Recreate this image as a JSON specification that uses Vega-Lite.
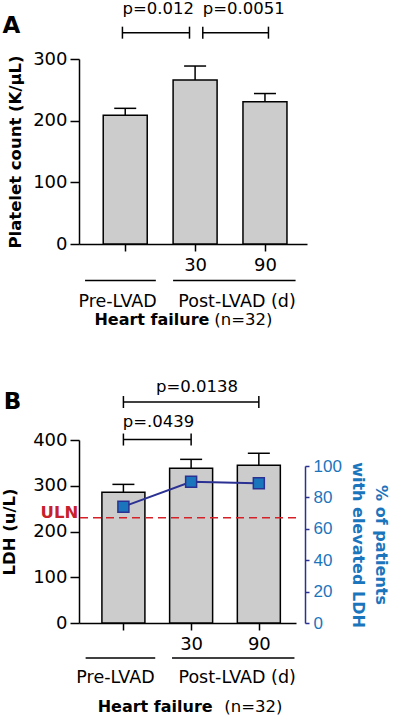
{
  "$schema": "https://vega.github.io/schema/vega-lite/v6.json",
  "background": "white",
  "padding": {"left": 1, "top": 0, "right": 0, "bottom": 0},
  "spacing": 50,
  "resolve": {"scale": {"x": "independent", "y": "independent"}, "axis": {"x": "independent", "y": "independent"}},
  "config": {
    "view": {"stroke": null},
    "font": "DejaVu Sans",
    "axis": {"grid": false, "domainColor": "black", "tickColor": "black", "domainWidth": 1.5, "tickWidth": 1.5, "labelColor": "black", "labelFont": "DejaVu Sans", "labelFontSize": 18, "titleFont": "DejaVu Sans", "titleFontWeight": "bold", "titleFontSize": 16.5, "titleColor": "black", "labelOverlap": false}
  },
  "datasets": {
    "platelet": [
      {"time": "Pre-LVAD", "idx": 1, "mean": 208.6, "upper": 220},
      {"time": "Post-LVAD 30 d", "idx": 2, "mean": 266, "upper": 288.6},
      {"time": "Post-LVAD 90 d", "idx": 3, "mean": 230.6, "upper": 244}
    ],
    "ldh": [
      {"time": "Pre-LVAD", "idx": 1, "mean": 286, "upper": 303, "pct": 74.1},
      {"time": "Post-LVAD 30 d", "idx": 2, "mean": 338, "upper": 357.7, "pct": 90.0},
      {"time": "Post-LVAD 90 d", "idx": 3, "mean": 344.6, "upper": 371, "pct": 89.0}
    ],
    "bracketsA": [
      {"x1": 0.96, "x2": 1.92, "y": 342.7, "label": "p=0.012", "lx": 0.96, "ly": 373},
      {"x1": 2.11, "x2": 3.05, "y": 342.7, "label": "p=0.0051", "lx": 2.11, "ly": 373}
    ],
    "bracketsB": [
      {"x1": 1, "x2": 2, "y": 401, "label": "p=.0439", "lx": 0.99, "ly": 429},
      {"x1": 1, "x2": 3, "y": 483, "label": "p=0.0138", "lx": 1.48, "ly": 504}
    ],
    "groupsA": [
      {"label": "Pre-LVAD", "from": 0.425, "to": 1.438, "mid": 0.89, "yl": -59, "yt": -102.8},
      {"label": "Post-LVAD (d)", "from": 1.685, "to": 3.438, "mid": 2.6, "yl": -59, "yt": -102.8}
    ],
    "groupsB": [
      {"label": "Pre-LVAD", "from": 0.442, "to": 1.47, "mid": 0.883, "yl": -76.7, "yt": -131.4},
      {"label": "Post-LVAD (d)", "from": 1.718, "to": 3.526, "mid": 2.68, "yl": -76.7, "yt": -131.4}
    ],
    "footA": [
      {"bold": "Heart failure", "bx": 2.205, "normal": "(n=32)", "nx": 2.274, "y": -132, "letter": "A", "lx": -0.63, "ly": 342}
    ],
    "footB": [
      {"bold": "Heart failure", "bx": 2.318, "normal": "(n=32)", "nx": 2.49, "y": -193.6, "letter": "B", "lx": -0.638, "ly": 467, "uln": 230, "ulnText": "ULN", "ulnx": 0.334}
    ]
  },
  "vconcat": [
    {
      "width": 228,
      "height": 185,
      "layer": [
        {
          "data": {"name": "platelet"},
          "mark": {"type": "bar", "size": 44, "fill": "#cccccc", "stroke": "black", "strokeWidth": 1.5},
          "encoding": {
            "x": {"field": "idx", "type": "quantitative", "title": null, "scale": {"domain": [0.41, 3.53], "nice": false, "zero": false},
                  "axis": {"values": [1, 2, 3], "labelExpr": "datum.value == 2 ? '30' : datum.value == 3 ? '90' : ''", "tickSize": 7, "labelPadding": 5}},
            "y": {"field": "mean", "type": "quantitative", "title": "Platelet count (K/µL)", "scale": {"domain": [0, 300], "nice": false},
                  "axis": {"values": [0, 100, 200, 300], "tickSize": 9, "labelPadding": 3, "titlePadding": 9}}
          }
        },
        {
          "data": {"name": "platelet"},
          "mark": {"type": "rule", "stroke": "black", "strokeWidth": 1.5},
          "encoding": {
            "x": {"field": "idx", "type": "quantitative", "title": null, "scale": {"domain": [0.41, 3.53], "nice": false, "zero": false}},
            "y": {"field": "mean", "type": "quantitative", "title": "Platelet count (K/µL)", "scale": {"domain": [0, 300], "nice": false}},
            "y2": {"field": "upper"}
          }
        },
        {
          "data": {"name": "platelet"},
          "mark": {"type": "tick", "orient": "horizontal", "size": 22, "thickness": 1.5, "color": "black", "opacity": 1},
          "encoding": {
            "x": {"field": "idx", "type": "quantitative", "title": null, "scale": {"domain": [0.41, 3.53], "nice": false, "zero": false}},
            "y": {"field": "upper", "type": "quantitative", "title": "Platelet count (K/µL)", "scale": {"domain": [0, 300], "nice": false}}
          }
        },
        {
          "data": {"name": "bracketsA"},
          "mark": {"type": "rule", "stroke": "black", "strokeWidth": 1.5},
          "encoding": {
            "x": {"field": "x1", "type": "quantitative", "title": null, "scale": {"domain": [0.41, 3.53], "nice": false, "zero": false}},
            "x2": {"field": "x2"},
            "y": {"field": "y", "type": "quantitative", "title": "Platelet count (K/µL)", "scale": {"domain": [0, 300], "nice": false}}
          }
        },
        {
          "data": {"name": "bracketsA"},
          "transform": [{"fold": ["x1", "x2"], "as": ["end", "xe"]}],
          "mark": {"type": "tick", "orient": "vertical", "size": 12, "thickness": 1.5, "color": "black", "opacity": 1},
          "encoding": {
            "x": {"field": "xe", "type": "quantitative", "title": null, "scale": {"domain": [0.41, 3.53], "nice": false, "zero": false}},
            "y": {"field": "y", "type": "quantitative", "title": "Platelet count (K/µL)", "scale": {"domain": [0, 300], "nice": false}}
          }
        },
        {
          "data": {"name": "bracketsA"},
          "mark": {"type": "text", "align": "left", "baseline": "alphabetic", "fontSize": 16.5, "color": "black"},
          "encoding": {
            "x": {"field": "lx", "type": "quantitative", "title": null, "scale": {"domain": [0.41, 3.53], "nice": false, "zero": false}},
            "y": {"field": "ly", "type": "quantitative", "title": "Platelet count (K/µL)", "scale": {"domain": [0, 300], "nice": false}},
            "text": {"field": "label"}
          }
        },
        {
          "data": {"name": "groupsA"},
          "mark": {"type": "rule", "stroke": "black", "strokeWidth": 1.5},
          "encoding": {
            "x": {"field": "from", "type": "quantitative", "title": null, "scale": {"domain": [0.41, 3.53], "nice": false, "zero": false}},
            "x2": {"field": "to"},
            "y": {"field": "yl", "type": "quantitative", "title": "Platelet count (K/µL)", "scale": {"domain": [0, 300], "nice": false}}
          }
        },
        {
          "data": {"name": "groupsA"},
          "mark": {"type": "text", "align": "center", "baseline": "alphabetic", "fontSize": 17.5, "color": "black"},
          "encoding": {
            "x": {"field": "mid", "type": "quantitative", "title": null, "scale": {"domain": [0.41, 3.53], "nice": false, "zero": false}},
            "y": {"field": "yt", "type": "quantitative", "title": "Platelet count (K/µL)", "scale": {"domain": [0, 300], "nice": false}},
            "text": {"field": "label"}
          }
        },
        {
          "data": {"name": "footA"},
          "mark": {"type": "text", "align": "right", "baseline": "alphabetic", "fontSize": 16, "fontWeight": "bold", "color": "black"},
          "encoding": {
            "x": {"field": "bx", "type": "quantitative", "title": null, "scale": {"domain": [0.41, 3.53], "nice": false, "zero": false}},
            "y": {"field": "y", "type": "quantitative", "title": "Platelet count (K/µL)", "scale": {"domain": [0, 300], "nice": false}},
            "text": {"field": "bold"}
          }
        },
        {
          "data": {"name": "footA"},
          "mark": {"type": "text", "align": "left", "baseline": "alphabetic", "fontSize": 16.5, "color": "black"},
          "encoding": {
            "x": {"field": "nx", "type": "quantitative", "title": null, "scale": {"domain": [0.41, 3.53], "nice": false, "zero": false}},
            "y": {"field": "y", "type": "quantitative", "title": "Platelet count (K/µL)", "scale": {"domain": [0, 300], "nice": false}},
            "text": {"field": "normal"}
          }
        },
        {
          "data": {"name": "footA"},
          "mark": {"type": "text", "align": "center", "baseline": "alphabetic", "fontSize": 23, "fontWeight": "bold", "color": "black"},
          "encoding": {
            "x": {"field": "lx", "type": "quantitative", "title": null, "scale": {"domain": [0.41, 3.53], "nice": false, "zero": false}},
            "y": {"field": "ly", "type": "quantitative", "title": "Platelet count (K/µL)", "scale": {"domain": [0, 300], "nice": false}},
            "text": {"field": "letter"}
          }
        }
      ]
    },
    {
      "width": 217,
      "height": 183,
      "resolve": {"scale": {"y": "independent"}},
      "layer": [
        {
          "layer": [
            {
              "data": {"name": "ldh"},
              "mark": {"type": "bar", "size": 43, "fill": "#cccccc", "stroke": "black", "strokeWidth": 1.5},
              "encoding": {
                "x": {"field": "idx", "type": "quantitative", "title": null, "scale": {"domain": [0.418, 3.475], "nice": false, "zero": false},
                      "axis": {"values": [1, 2, 3], "labelExpr": "datum.value == 2 ? '30' : datum.value == 3 ? '90' : ''", "tickSize": 7, "labelPadding": 5}},
                "y": {"field": "mean", "type": "quantitative", "title": "LDH (u/L)", "scale": {"domain": [0, 400], "nice": false},
                      "axis": {"orient": "left", "values": [0, 100, 200, 300, 400], "tickSize": 9, "labelPadding": 3, "titlePadding": 15}}
              }
            },
            {
              "data": {"name": "ldh"},
              "mark": {"type": "rule", "stroke": "black", "strokeWidth": 1.5},
              "encoding": {
                "x": {"field": "idx", "type": "quantitative", "title": null, "scale": {"domain": [0.418, 3.475], "nice": false, "zero": false}},
                "y": {"field": "mean", "type": "quantitative", "title": "LDH (u/L)", "scale": {"domain": [0, 400], "nice": false}},
                "y2": {"field": "upper"}
              }
            },
            {
              "data": {"name": "ldh"},
              "mark": {"type": "tick", "orient": "horizontal", "size": 22, "thickness": 1.5, "color": "black", "opacity": 1},
              "encoding": {
                "x": {"field": "idx", "type": "quantitative", "title": null, "scale": {"domain": [0.418, 3.475], "nice": false, "zero": false}},
                "y": {"field": "upper", "type": "quantitative", "title": "LDH (u/L)", "scale": {"domain": [0, 400], "nice": false}}
              }
            },
            {
              "data": {"name": "footB"},
              "mark": {"type": "rule", "stroke": "#d62027", "strokeWidth": 1.5, "strokeDash": [8, 5]},
              "encoding": {
                "y": {"field": "uln", "type": "quantitative", "title": "LDH (u/L)", "scale": {"domain": [0, 400], "nice": false}}
              }
            },
            {
              "data": {"name": "footB"},
              "mark": {"type": "text", "align": "right", "baseline": "alphabetic", "fontSize": 16.5, "fontWeight": "bold", "color": "#c8202a"},
              "encoding": {
                "x": {"field": "ulnx", "type": "quantitative", "title": null, "scale": {"domain": [0.418, 3.475], "nice": false, "zero": false}},
                "y": {"field": "uln", "type": "quantitative", "title": "LDH (u/L)", "scale": {"domain": [0, 400], "nice": false}},
                "text": {"field": "ulnText"}
              }
            },
            {
              "data": {"name": "bracketsB"},
              "mark": {"type": "rule", "stroke": "black", "strokeWidth": 1.5},
              "encoding": {
                "x": {"field": "x1", "type": "quantitative", "title": null, "scale": {"domain": [0.418, 3.475], "nice": false, "zero": false}},
                "x2": {"field": "x2"},
                "y": {"field": "y", "type": "quantitative", "title": "LDH (u/L)", "scale": {"domain": [0, 400], "nice": false}}
              }
            },
            {
              "data": {"name": "bracketsB"},
              "transform": [{"fold": ["x1", "x2"], "as": ["end", "xe"]}],
              "mark": {"type": "tick", "orient": "vertical", "size": 12, "thickness": 1.5, "color": "black", "opacity": 1},
              "encoding": {
                "x": {"field": "xe", "type": "quantitative", "title": null, "scale": {"domain": [0.418, 3.475], "nice": false, "zero": false}},
                "y": {"field": "y", "type": "quantitative", "title": "LDH (u/L)", "scale": {"domain": [0, 400], "nice": false}}
              }
            },
            {
              "data": {"name": "bracketsB"},
              "mark": {"type": "text", "align": "left", "baseline": "alphabetic", "fontSize": 16.5, "color": "black"},
              "encoding": {
                "x": {"field": "lx", "type": "quantitative", "title": null, "scale": {"domain": [0.418, 3.475], "nice": false, "zero": false}},
                "y": {"field": "ly", "type": "quantitative", "title": "LDH (u/L)", "scale": {"domain": [0, 400], "nice": false}},
                "text": {"field": "label"}
              }
            },
            {
              "data": {"name": "groupsB"},
              "mark": {"type": "rule", "stroke": "black", "strokeWidth": 1.5},
              "encoding": {
                "x": {"field": "from", "type": "quantitative", "title": null, "scale": {"domain": [0.418, 3.475], "nice": false, "zero": false}},
                "x2": {"field": "to"},
                "y": {"field": "yl", "type": "quantitative", "title": "LDH (u/L)", "scale": {"domain": [0, 400], "nice": false}}
              }
            },
            {
              "data": {"name": "groupsB"},
              "mark": {"type": "text", "align": "center", "baseline": "alphabetic", "fontSize": 17.5, "color": "black"},
              "encoding": {
                "x": {"field": "mid", "type": "quantitative", "title": null, "scale": {"domain": [0.418, 3.475], "nice": false, "zero": false}},
                "y": {"field": "yt", "type": "quantitative", "title": "LDH (u/L)", "scale": {"domain": [0, 400], "nice": false}},
                "text": {"field": "label"}
              }
            },
            {
              "data": {"name": "footB"},
              "mark": {"type": "text", "align": "right", "baseline": "alphabetic", "fontSize": 16, "fontWeight": "bold", "color": "black"},
              "encoding": {
                "x": {"field": "bx", "type": "quantitative", "title": null, "scale": {"domain": [0.418, 3.475], "nice": false, "zero": false}},
                "y": {"field": "y", "type": "quantitative", "title": "LDH (u/L)", "scale": {"domain": [0, 400], "nice": false}},
                "text": {"field": "bold"}
              }
            },
            {
              "data": {"name": "footB"},
              "mark": {"type": "text", "align": "left", "baseline": "alphabetic", "fontSize": 16.5, "color": "black"},
              "encoding": {
                "x": {"field": "nx", "type": "quantitative", "title": null, "scale": {"domain": [0.418, 3.475], "nice": false, "zero": false}},
                "y": {"field": "y", "type": "quantitative", "title": "LDH (u/L)", "scale": {"domain": [0, 400], "nice": false}},
                "text": {"field": "normal"}
              }
            },
            {
              "data": {"name": "footB"},
              "mark": {"type": "text", "align": "center", "baseline": "alphabetic", "fontSize": 23, "fontWeight": "bold", "color": "black"},
              "encoding": {
                "x": {"field": "lx", "type": "quantitative", "title": null, "scale": {"domain": [0.418, 3.475], "nice": false, "zero": false}},
                "y": {"field": "ly", "type": "quantitative", "title": "LDH (u/L)", "scale": {"domain": [0, 400], "nice": false}},
                "text": {"field": "letter"}
              }
            }
          ]
        },
        {
          "data": {"name": "ldh"},
          "layer": [
            {
              "mark": {"type": "line", "stroke": "#2b3192", "strokeWidth": 2},
              "encoding": {
                "x": {"field": "idx", "type": "quantitative", "title": null, "scale": {"domain": [0.418, 3.475], "nice": false, "zero": false}},
                "y": {"field": "pct", "type": "quantitative", "title": ["% of patients", "with elevated LDH"], "scale": {"domain": [0, 100], "nice": false, "range": [183, 26]},
                      "axis": {"orient": "right", "offset": 9, "values": [0, 20, 40, 60, 80, 100], "tickSize": 4, "labelPadding": 4, "labelOverlap": false, "labelFlush": false,
                               "domainColor": "#2b3192", "tickColor": "#2b3192", "labelColor": "#1b75bc", "labelFontSize": 17, "labelFont": "Liberation Sans",
                               "titleColor": "#1b75bc", "titleFontSize": 16, "titleAngle": 90, "titlePadding": 8, "titleLineHeight": 23}}
              }
            },
            {
              "mark": {"type": "point", "shape": "square", "size": 121, "filled": true, "fill": "#1b75bc", "stroke": "#2b3192", "strokeWidth": 1.5, "opacity": 1},
              "encoding": {
                "x": {"field": "idx", "type": "quantitative", "title": null, "scale": {"domain": [0.418, 3.475], "nice": false, "zero": false}},
                "y": {"field": "pct", "type": "quantitative", "title": ["% of patients", "with elevated LDH"], "scale": {"domain": [0, 100], "nice": false, "range": [183, 26]},
                      "axis": {"orient": "right", "offset": 9, "values": [0, 20, 40, 60, 80, 100], "tickSize": 4, "labelPadding": 4, "labelOverlap": false, "labelFlush": false,
                               "domainColor": "#2b3192", "tickColor": "#2b3192", "labelColor": "#1b75bc", "labelFontSize": 17, "labelFont": "Liberation Sans",
                               "titleColor": "#1b75bc", "titleFontSize": 16, "titleAngle": 90, "titlePadding": 8, "titleLineHeight": 23}}
              }
            }
          ]
        }
      ]
    }
  ]
}
